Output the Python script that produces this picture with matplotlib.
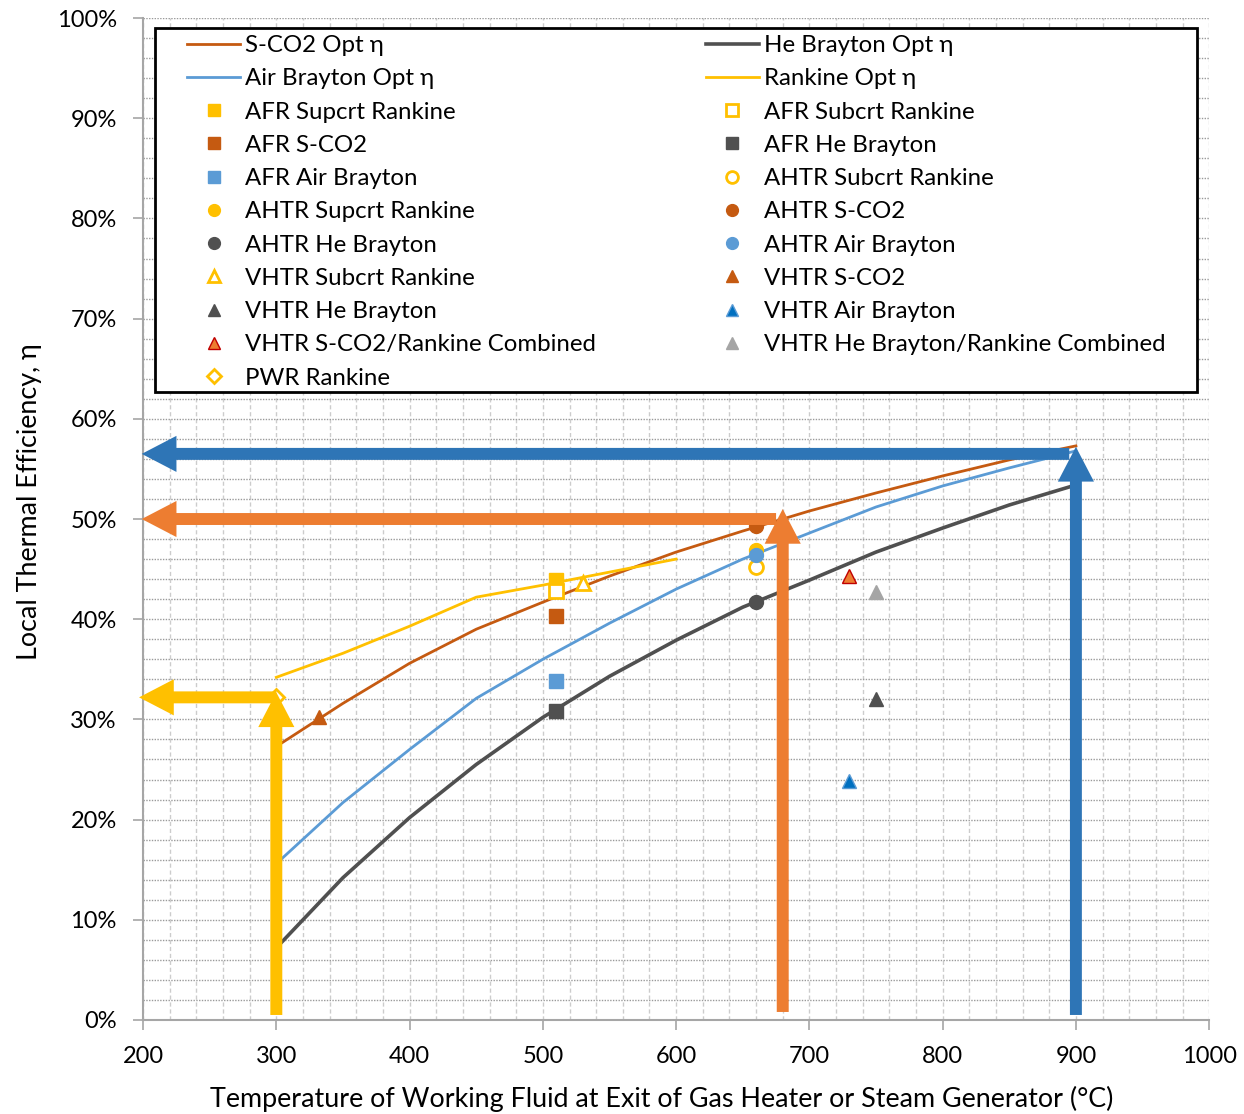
import matplotlib
matplotlib.use('Agg')
import matplotlib.pyplot as plt
from matplotlib.patches import FancyArrowPatch, Rectangle
from matplotlib.ticker import MultipleLocator, PercentFormatter

plt.rcParams['font.family'] = ['Lato', 'DejaVu Sans']

# optimum efficiency curves
temp = [300, 350, 400, 450, 500, 550, 600, 650, 700, 750, 800, 850, 900]
sco2_opt = [0.273, 0.316, 0.356, 0.390, 0.417, 0.443, 0.467, 0.488, 0.508, 0.526, 0.543, 0.559, 0.573]
air_opt = [0.156, 0.217, 0.270, 0.321, 0.360, 0.396, 0.430, 0.460, 0.486, 0.512, 0.533, 0.551, 0.568]
he_opt = [0.072, 0.142, 0.202, 0.255, 0.302, 0.343, 0.379, 0.412, 0.439, 0.467, 0.491, 0.514, 0.534]
rank_temp = [300, 350, 400, 450, 500, 550, 600]
rank_opt = [0.342, 0.366, 0.393, 0.422, 0.434, 0.447, 0.460]

# reactor design points (T, eta)
afr_sup_rank = (510, 0.439)
afr_sub_rank = (510, 0.428)
afr_sco2 = (510, 0.403)
afr_air = (510, 0.338)
afr_he = (510, 0.308)
ahtr_sco2 = (660, 0.493)
ahtr_sup_rank = (660, 0.469)
ahtr_air = (660, 0.464)
ahtr_sub_rank = (660, 0.452)
ahtr_he = (660, 0.417)
vhtr_sub_rank = (530, 0.436)
vhtr_sco2 = (332, 0.302)
vhtr_sco2_comb = (730, 0.443)
vhtr_he_comb = (750, 0.427)
vhtr_he = (750, 0.320)
vhtr_air = (730, 0.239)
pwr_rank = (300, 0.322)

# highlight arrows: (x, y_from, y_to) vertical, (y, x_from, x_to) horizontal
arrow_colors = ['#FFC000', '#ED7D31', '#2E75B6']
arrow_vert = [(300, 0.005, 0.327), (680, 0.008, 0.510), (900, 0.005, 0.572)]
arrow_horz = [(0.322, 300, 197), (0.500, 675, 199), (0.565, 895, 199)]

orange = '#C55A11'
blue = '#5B9BD5'
grey = '#505050'
yellow = '#FFC000'

fig = plt.figure(figsize=(12.44, 11.14), dpi=100)
ax = fig.add_axes([0.115, 0.0844, 0.857, 0.8994])

h = {}
h['sco2'], = ax.plot(temp, sco2_opt, color=orange, lw=2, label='S-CO2 Opt η')
h['he'], = ax.plot(temp, he_opt, color=grey, lw=2.6, label='He Brayton Opt η')
h['air'], = ax.plot(temp, air_opt, color=blue, lw=2, label='Air Brayton Opt η')
h['rank'], = ax.plot(rank_temp, rank_opt, color=yellow, lw=2, label='Rankine Opt η')

ms = 10
def pt(key, p, marker, color, label, filled=True, edge=None, size=ms):
    fc = color if filled else 'white'
    ec = edge if edge else color
    h[key], = ax.plot([p[0]], [p[1]], ls='none', marker=marker, ms=size,
                      mfc=fc, mec=ec, mew=2 if not filled else 1, label=label, zorder=4)

pt('pwr', pwr_rank, 'D', yellow, 'PWR Rankine', filled=False, size=8)
pt('afr_sup', afr_sup_rank, 's', yellow, 'AFR Supcrt Rankine')
pt('afr_sub', afr_sub_rank, 's', yellow, 'AFR Subcrt Rankine', filled=False)
pt('afr_sco2', afr_sco2, 's', orange, 'AFR S-CO2')
pt('afr_he', afr_he, 's', grey, 'AFR He Brayton')
pt('afr_air', afr_air, 's', blue, 'AFR Air Brayton')
pt('ahtr_sub', ahtr_sub_rank, 'o', yellow, 'AHTR Subcrt Rankine', filled=False)
pt('ahtr_sup', ahtr_sup_rank, 'o', yellow, 'AHTR Supcrt Rankine')
pt('ahtr_sco2', ahtr_sco2, 'o', orange, 'AHTR S-CO2')
pt('ahtr_he', ahtr_he, 'o', grey, 'AHTR He Brayton')
pt('ahtr_air', ahtr_air, 'o', blue, 'AHTR Air Brayton')
pt('vhtr_sub', vhtr_sub_rank, '^', yellow, 'VHTR Subcrt Rankine', filled=False)
pt('vhtr_sco2', vhtr_sco2, '^', orange, 'VHTR S-CO2')
pt('vhtr_he', vhtr_he, '^', grey, 'VHTR He Brayton')
pt('vhtr_air', vhtr_air, '^', '#0070C0', 'VHTR Air Brayton', edge='#5B9BD5')
pt('vhtr_sco2c', vhtr_sco2_comb, '^', '#ED7D31', 'VHTR S-CO2/Rankine Combined', edge='#C00000')
pt('vhtr_hec', vhtr_he_comb, '^', '#A5A5A5', 'VHTR He Brayton/Rankine Combined')

style = 'simple,head_length=25,head_width=26,tail_width=8.6'
for c, (x, y0, y1) in zip(arrow_colors, arrow_vert):
    ax.add_patch(FancyArrowPatch((x, y0), (x, y1), arrowstyle=style, mutation_scale=1,
                                 color=c, lw=0, shrinkA=0, shrinkB=0, zorder=5, clip_on=False))
for c, (y, x0, x1) in zip(arrow_colors, arrow_horz):
    ax.add_patch(FancyArrowPatch((x0, y), (x1, y), arrowstyle=style, mutation_scale=1,
                                 color=c, lw=0, shrinkA=0, shrinkB=0, zorder=5, clip_on=False))

ax.set_xlim(200, 1000)
ax.set_ylim(0, 1.0)
ax.xaxis.set_major_locator(MultipleLocator(100))
ax.xaxis.set_minor_locator(MultipleLocator(20))
ax.yaxis.set_major_locator(MultipleLocator(0.1))
ax.yaxis.set_minor_locator(MultipleLocator(0.02))
ax.yaxis.set_major_formatter(PercentFormatter(1.0, decimals=0))
ax.grid(which='both', axis='y', ls=(0, (1, 1)), color='#9a9a9a', lw=1)
ax.grid(which='both', axis='x', ls=(0, (3, 2)), color='#cccccc', lw=1)
ax.set_axisbelow(True)
for s in ['top', 'right']:
    ax.spines[s].set_visible(False)
for s in ['left', 'bottom']:
    ax.spines[s].set_color('#A6A6A6')
    ax.spines[s].set_linewidth(1.5)
ax.tick_params(which='major', length=7, width=1.2, color='#A6A6A6', labelsize=17, pad=12)
ax.tick_params(which='minor', length=0)

ax.set_xlabel('Temperature of Working Fluid at Exit of Gas Heater or Steam Generator (°C)', fontsize=19.4)
ax.set_ylabel('Local Thermal Efficiency, η', fontsize=19.4)
ax.xaxis.set_label_coords(0.486, -0.066)
ax.yaxis.set_label_coords(-0.095, 0.517)

# legend box drawn separately so the inner padding can match
ax.add_patch(Rectangle((0.0113, 0.627), 0.9774, 0.363, transform=ax.transAxes,
                       fc='white', ec='black', lw=2, zorder=9))
left = ['sco2', 'air', 'afr_sup', 'afr_sco2', 'afr_air', 'ahtr_sup', 'ahtr_he',
        'vhtr_sub', 'vhtr_he', 'vhtr_sco2c', 'pwr']
right = ['he', 'rank', 'afr_sub', 'afr_he', 'ahtr_sub', 'ahtr_sco2', 'ahtr_air',
         'vhtr_sco2', 'vhtr_air', 'vhtr_hec']
order = left + right
leg = ax.legend([h[k] for k in order], [h[k].get_label() for k in order], ncol=2,
                loc='upper left', bbox_to_anchor=(0.0413, 0.5, 0.9174, 0.483), mode='expand',
                fontsize=17.3, frameon=False, labelspacing=0.51, handlelength=2.2,
                handletextpad=0.2, borderaxespad=0, borderpad=0, markerscale=0.85)
leg.set_zorder(10)

fig.savefig('out.png', dpi=100)
